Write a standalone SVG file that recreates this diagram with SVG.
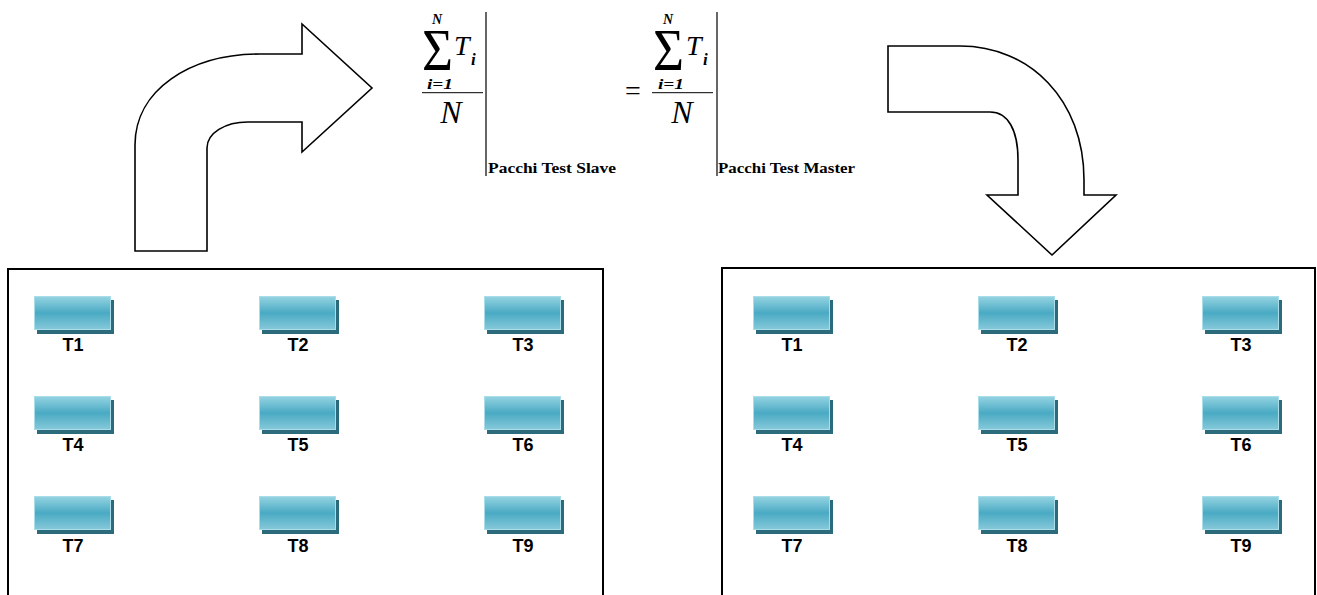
<svg xmlns="http://www.w3.org/2000/svg" width="1317" height="595" viewBox="0 0 1317 595">
<defs>
<linearGradient id="tileGrad" x1="0" y1="0" x2="0" y2="1">
<stop offset="0" stop-color="#95d3e2"/>
<stop offset="0.5" stop-color="#4aaac3"/>
<stop offset="1" stop-color="#86c9da"/>
</linearGradient>
<g id="tile">
<rect x="3" y="4" width="77" height="34" fill="#2b6b7c"/>
<rect x="0.5" y="0.5" width="76" height="33" fill="url(#tileGrad)" stroke="#a9dde9" stroke-width="1"/>
</g>
</defs>
<style>
.panel{fill:none;stroke:#000;stroke-width:2}
.arrow{fill:#fff;stroke:#000;stroke-width:1.6;stroke-linejoin:miter}
.lbl{font-family:"Liberation Sans",Arial,sans-serif;font-weight:bold;font-size:18px;text-anchor:middle;fill:#000}
.m{font-family:"Liberation Serif","Times New Roman",serif;fill:#000}
.sub{font-family:"Liberation Serif","Times New Roman",serif;font-weight:bold;font-size:15px;fill:#000}
</style>
<rect width="1317" height="595" fill="#fff"/>

<g id="connectors">
<path id="arrow-left" class="arrow" d="M135,251 L135,145 C135,90 190,54 260,54 L302,54 L302,24 L372,88 L302,152 L302,122 L248,122 C225,122 207,133 207,148 L207,251 Z"/>
<path id="arrow-right" class="arrow" d="M888,46 L960,46 C1030,46 1084,100 1084,180 L1084,195 L1116,195 L1052,255 L987,195 L1018,195 L1018,160 C1018,130 1008,112 990,112 L888,112 Z"/>
</g>

<g id="formula-slave">
<text class="m" x="422" y="70" font-size="60" textLength="31" lengthAdjust="spacingAndGlyphs">Σ</text>
<text class="m" x="437" y="24" font-size="14" font-weight="bold" font-style="italic" text-anchor="middle">N</text>
<text class="m" x="440" y="89" font-size="15" font-weight="bold" font-style="italic" text-anchor="middle" textLength="26" lengthAdjust="spacingAndGlyphs">i=1</text>
<text class="m" x="454" y="55" font-size="28" font-style="italic">T</text>
<text class="m" x="471" y="65" font-size="17" font-weight="bold" font-style="italic">i</text>
<line x1="422" y1="92.7" x2="483" y2="92.7" stroke="#000" stroke-width="1"/>
<text class="m" x="451" y="123" font-size="32" font-style="italic" text-anchor="middle">N</text>
<line x1="486" y1="12" x2="486" y2="176" stroke="#000" stroke-width="1.2"/>
<text class="sub" x="488" y="173" textLength="128" lengthAdjust="spacingAndGlyphs">Pacchi Test Slave</text>
</g>

<g id="formula-master">
<text class="m" x="625" y="100" font-size="28">=</text>
<text class="m" x="653" y="70" font-size="60" textLength="31" lengthAdjust="spacingAndGlyphs">Σ</text>
<text class="m" x="668" y="24" font-size="14" font-weight="bold" font-style="italic" text-anchor="middle">N</text>
<text class="m" x="671" y="89" font-size="15" font-weight="bold" font-style="italic" text-anchor="middle" textLength="26" lengthAdjust="spacingAndGlyphs">i=1</text>
<text class="m" x="686" y="55" font-size="28" font-style="italic">T</text>
<text class="m" x="703" y="65" font-size="17" font-weight="bold" font-style="italic">i</text>
<line x1="652" y1="92.7" x2="713" y2="92.7" stroke="#000" stroke-width="1"/>
<text class="m" x="682" y="123" font-size="32" font-style="italic" text-anchor="middle">N</text>
<line x1="717" y1="12" x2="717" y2="176" stroke="#000" stroke-width="1.2"/>
<text class="sub" x="718" y="173" textLength="137" lengthAdjust="spacingAndGlyphs">Pacchi Test Master</text>
</g>

<g id="panel-slave">
<rect class="panel" x="8" y="269" width="595" height="340"/>
</g>
<g id="panel-master">
<rect class="panel" x="722" y="268" width="593" height="340"/>
</g>

<g id="slave-T1"><use href="#tile" x="34" y="296"/><text class="lbl" x="73" y="351">T1</text></g>
<g id="slave-T2"><use href="#tile" x="259" y="296"/><text class="lbl" x="298" y="351">T2</text></g>
<g id="slave-T3"><use href="#tile" x="484" y="296"/><text class="lbl" x="523" y="351">T3</text></g>
<g id="slave-T4"><use href="#tile" x="34" y="396"/><text class="lbl" x="73" y="451">T4</text></g>
<g id="slave-T5"><use href="#tile" x="259" y="396"/><text class="lbl" x="298" y="451">T5</text></g>
<g id="slave-T6"><use href="#tile" x="484" y="396"/><text class="lbl" x="523" y="451">T6</text></g>
<g id="slave-T7"><use href="#tile" x="34" y="496"/><text class="lbl" x="73" y="552">T7</text></g>
<g id="slave-T8"><use href="#tile" x="259" y="496"/><text class="lbl" x="298" y="552">T8</text></g>
<g id="slave-T9"><use href="#tile" x="484" y="496"/><text class="lbl" x="523" y="552">T9</text></g>

<g id="master-T1"><use href="#tile" x="753" y="296"/><text class="lbl" x="792" y="351">T1</text></g>
<g id="master-T2"><use href="#tile" x="978" y="296"/><text class="lbl" x="1017" y="351">T2</text></g>
<g id="master-T3"><use href="#tile" x="1202" y="296"/><text class="lbl" x="1241" y="351">T3</text></g>
<g id="master-T4"><use href="#tile" x="753" y="396"/><text class="lbl" x="792" y="451">T4</text></g>
<g id="master-T5"><use href="#tile" x="978" y="396"/><text class="lbl" x="1017" y="451">T5</text></g>
<g id="master-T6"><use href="#tile" x="1202" y="396"/><text class="lbl" x="1241" y="451">T6</text></g>
<g id="master-T7"><use href="#tile" x="753" y="496"/><text class="lbl" x="792" y="552">T7</text></g>
<g id="master-T8"><use href="#tile" x="978" y="496"/><text class="lbl" x="1017" y="552">T8</text></g>
<g id="master-T9"><use href="#tile" x="1202" y="496"/><text class="lbl" x="1241" y="552">T9</text></g>
</svg>
